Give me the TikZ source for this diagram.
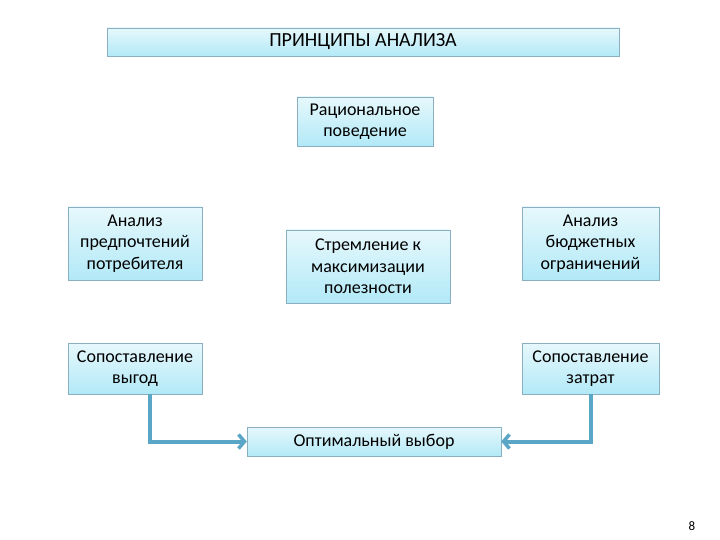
\documentclass[tikz,border=0pt]{standalone}
\usepackage{fontspec}
\setmainfont{Carlito}
\usetikzlibrary{arrows.meta}

\definecolor{boxline}{HTML}{8AAFC0}
\definecolor{boxtop}{HTML}{E6F8FC}
\definecolor{boxbot}{HTML}{B2E9F7}
\definecolor{linkblue}{HTML}{5AA6C6}

\tikzset{
  box/.style={draw=boxline, top color=boxtop, bottom color=boxbot,
    align=center, inner sep=0pt, font=\fontsize{18}{21.5}\selectfont},
  link/.style={draw=linkblue, line width=4pt,
    -{Straight Barb[length=6pt,width=14pt,line width=3.5pt]}}
}

\begin{document}
\begin{tikzpicture}[x=1pt,y=-1pt]
\useasboundingbox (0,0) rectangle (720,540);

% title
\node[box, minimum width=512pt, minimum height=28pt,
  font=\fontsize{20}{22}\selectfont] (title) at (363,42) {ПРИНЦИПЫ АНАЛИЗА};

% middle column
\node[box, minimum width=136pt, minimum height=49pt] (ration) at (365,121.5)
  {Рациональное\\поведение};
\node[box, minimum width=164pt, minimum height=73pt] (utility) at (368,266.5)
  {Стремление к\\максимизации\\полезности};

% left column
\node[box, minimum width=134pt, minimum height=73pt] (prefer) at (135,243.5)
  {Анализ\\предпочтений\\потребителя};
\node[box, minimum width=134pt, minimum height=51pt] (gain) at (135,368.5)
  {Сопоставление\\выгод};

% right column
\node[box, minimum width=137pt, minimum height=73pt] (budget) at (590.5,243.5)
  {Анализ\\бюджетных\\ограничений};
\node[box, minimum width=137pt, minimum height=51pt] (cost) at (590.5,368.5)
  {Сопоставление\\затрат};

% result
\node[box, minimum width=254pt, minimum height=29pt] (choice) at (374,441.5)
  {Оптимальный выбор};

\draw[link] ([xshift=15pt]gain.south) |- (choice.west);
\draw[link] (cost.south) |- (choice.east);

\node[font=\fontsize{13}{15}\selectfont] (page) at (692,526) {8};

\end{tikzpicture}
\end{document}
